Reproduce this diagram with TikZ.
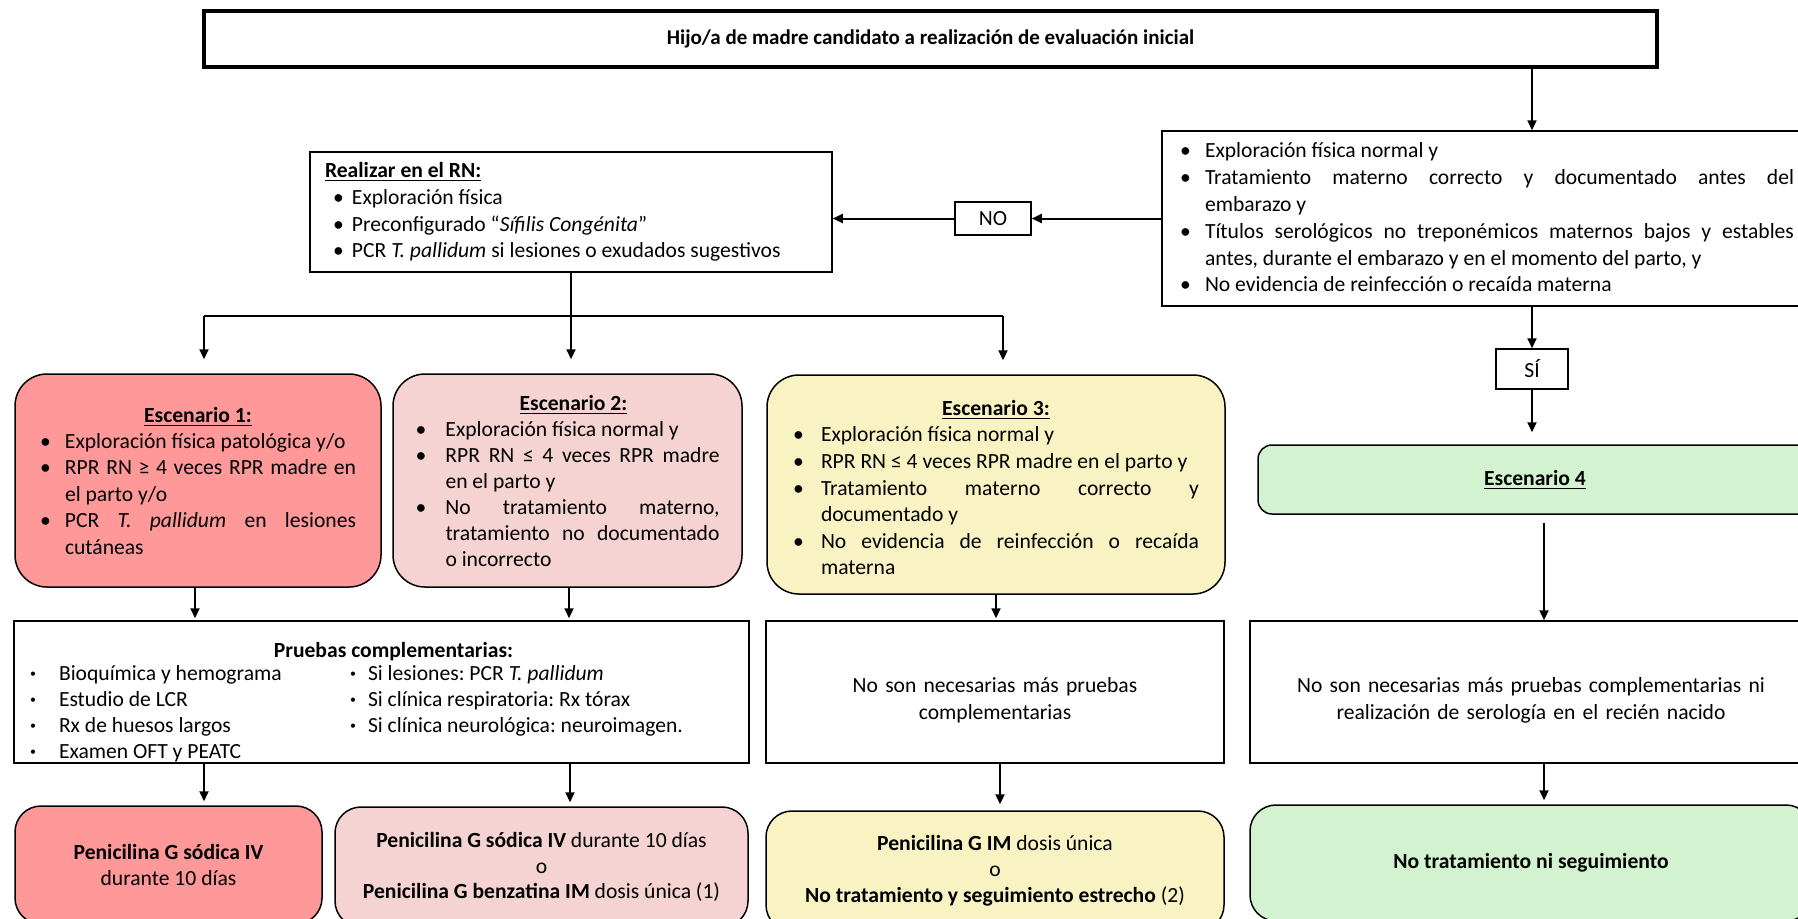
\documentclass[tikz,border=0pt]{standalone}
\usepackage{fontspec}
\setmainfont{Carlito}
\usetikzlibrary{arrows.meta,calc}
\definecolor{redA}{HTML}{FF9999}
\definecolor{pinkB}{HTML}{F6D3D3}
\definecolor{yelC}{HTML}{F9F3C3}
\definecolor{grnD}{HTML}{D3F3D0}
\hyphenpenalty=10000
\exhyphenpenalty=10000
\frenchspacing
\newcommand{\bitem}[3][0pt]{\par\noindent\hangindent=#2\hangafter=1\makebox[#2][l]{\hspace*{#1}•}#3}
\newcommand{\sbitem}[2]{\par\noindent\hangindent=#1\hangafter=1\makebox[#1][l]{\raisebox{0.25ex}{\scalebox{0.55}{•}}}#2}
\begin{document}
\begin{tikzpicture}[x=0.5pt,y=-0.5pt,
  box/.style={draw=black, line width=0.75pt, inner sep=0pt, font=\fontsize{10.8}{13.4}\selectfont},
  rbox/.style={box, rounded corners=16pt},
  just/.style={align=justify},
  arr/.style={-{Triangle[length=5pt,width=4.5pt]}, line width=1pt},
  plain/.style={line width=1pt}]
\useasboundingbox (0,0) rectangle (1798,918);
\clip (0,0) rectangle (1798,918);

% top
\node[box, line width=1.8pt, minimum width=726.5pt, minimum height=28pt,
      font=\bfseries\fontsize{10.5}{12}\selectfont] (top) at (930.5,39)
  {Hijo/a de madre candidato a realización de evaluación inicial};

% right condition box
\node[box, just, minimum width=325pt, minimum height=84.5pt, text width=307pt] (cond) at (1487,218.5)
  {\bitem{12.5pt}{Exploración física normal y}
   \bitem{12.5pt}{Tratamiento materno correcto y documentado antes del\linebreak embarazo y}
   \bitem{12.5pt}{Títulos serológicos no treponémicos maternos bajos y estables\linebreak antes, durante el embarazo y en el momento del parto, y}
   \bitem{12.5pt}{No evidencia de reinfección o recaída materna}\par\kern7pt};

% NO box
\node[box, minimum width=38pt, minimum height=16.5pt] (no) at (993,218.5) {NO};

% Realizar box
\node[box, just, minimum width=261pt, minimum height=60pt, text width=246pt] (rn) at (571,212)
  {\noindent\textbf{\underline{Realizar en el RN:}}
   \bitem[4pt]{13.5pt}{Exploración física}
   \bitem[4pt]{13.5pt}{Preconfigurado “\textit{Sífilis Congénita}”}
   \bitem[4pt]{13.5pt}{PCR \textit{T. pallidum} si lesiones o exudados sugestivos}\par};

% Escenarios
\node[rbox, just, fill=redA, minimum width=183pt, minimum height=106.5pt, text width=158pt,
      font=\fontsize{10.8}{13.2}\selectfont] (e1) at (198,480.5)
  {{\centering\textbf{\underline{Escenario 1:}}\par}
   \bitem{12.5pt}{Exploración física patológica y/o}
   \bitem{12.5pt}{RPR RN ≥ 4 veces RPR madre en\linebreak el parto y/o}
   \bitem{12.5pt}{PCR \textit{T. pallidum} en lesiones\linebreak cutáneas}\par};

\node[rbox, just, fill=pinkB, minimum width=174.5pt, minimum height=106.5pt, text width=152pt,
      font=\fontsize{10.8}{13}\selectfont] (e2) at (567.5,480.5)
  {{\centering\hspace*{6pt}\textbf{\underline{Escenario 2:}}\par}
   \bitem{15pt}{Exploración física normal y}
   \bitem{15pt}{RPR RN ≤ 4 veces RPR madre\linebreak en el parto y}
   \bitem{15pt}{No tratamiento materno,\linebreak tratamiento no documentado\linebreak o incorrecto}\par};

\node[rbox, just, fill=yelC, minimum width=229pt, minimum height=109.5pt, text width=203pt,
      font=\fontsize{10.8}{13.3}\selectfont] (e3) at (996,484.5)
  {{\centering\textbf{\underline{Escenario 3:}}\par}
   \bitem{14pt}{Exploración física normal y}
   \bitem{14pt}{RPR RN ≤ 4 veces RPR madre en el parto y}
   \bitem{14pt}{Tratamiento materno correcto y\linebreak documentado y}
   \bitem{14pt}{No evidencia de reinfección o recaída\linebreak materna}\par\kern-3pt};

\node[box, minimum width=36pt, minimum height=20pt] (si) at (1532,369) {SÍ};

\node[box, rounded corners=7pt, fill=grnD, minimum width=277pt, minimum height=34.5pt] (e4) at (1535,479.5)
  {\textbf{\underline{Escenario 4}}};

% second level
\node[box, just, minimum width=367.5pt, minimum height=71pt, text width=351.5pt,
      font=\fontsize{10.8}{13}\selectfont] (p1) at (381.5,692)
  {{\centering\hspace*{12pt}\textbf{Pruebas complementarias:}\par}
   \vspace{-1.5pt}
   \noindent\begin{minipage}[t]{160pt}
     \sbitem{14.5pt}{Bioquímica y hemograma}
     \sbitem{14.5pt}{Estudio de LCR}
     \sbitem{14.5pt}{Rx de huesos largos}
     \sbitem{14.5pt}{Examen OFT y PEATC}\par
   \end{minipage}%
   \begin{minipage}[t]{191.5pt}
     \sbitem{9pt}{Si lesiones: PCR \textit{T. pallidum}}
     \sbitem{9pt}{Si clínica respiratoria: Rx tórax}
     \sbitem{9pt}{Si clínica neurológica: neuroimagen.}\par
   \end{minipage}\par\kern-10pt};

\node[box, minimum width=229pt, minimum height=71pt, text width=220pt, align=center] (p3) at (995,692)
  {No son necesarias más pruebas\\complementarias\par\kern-8pt};

\node[box, minimum width=281pt, minimum height=71pt, text width=270pt, align=center] (p4) at (1531,692)
  {No son necesarias más pruebas complementarias ni\\realización de serología en el recién nacido\par\kern-8pt};

% third level
\node[rbox, rounded corners=13pt, fill=redA, minimum width=153.5pt, minimum height=59pt, align=center,
      font=\fontsize{10.8}{12.8}\selectfont] (b1) at (168.5,865)
  {\textbf{Penicilina G sódica IV}\\durante 10 días};

\node[rbox, rounded corners=13pt, fill=pinkB, minimum width=206.5pt, minimum height=60pt, align=center,
      font=\fontsize{10.8}{12.8}\selectfont] (b2) at (541.5,867)
  {\textbf{Penicilina G sódica IV} durante 10 días\\o\\\textbf{Penicilina G benzatina IM} dosis única (1)};

\node[rbox, rounded corners=13pt, fill=yelC, minimum width=229pt, minimum height=60pt, align=center,
      font=\fontsize{10.8}{13}\selectfont] (b3) at (995,871)
  {\textbf{Penicilina G IM} dosis única\\o\\\textbf{No tratamiento y seguimiento estrecho} (2)};

\node[rbox, rounded corners=13pt, fill=grnD, minimum width=281pt, minimum height=58pt, align=center] (b4) at (1531,863)
  {\textbf{No tratamiento ni seguimiento}};

% helper coordinates
\coordinate (cx) at (1532,0);
\coordinate (cy) at (1544,0);
\coordinate (bl) at (204,316);
\coordinate (br) at (1003,316);
\coordinate (c1) at (195,0);
\coordinate (c2) at (569,0);
\coordinate (c5) at (204,0);
\coordinate (c6) at (570,0);
\coordinate (c7) at (1000,0);

% connectors
\draw[arr] (cx |- top.south) -- (cx |- cond.north);
\draw[arr] (cond.west) -- (no.east);
\draw[arr] (no.west) -- (rn.east |- no.west);
\draw[plain] (rn.south) -- (rn.south |- bl);
\draw[line width=1.3pt] (bl) -- (br);
\draw[arr, shorten >=7pt] (bl) -- (bl |- e1.north);
\draw[arr, shorten >=7pt] (rn.south |- bl) -- (rn.south |- e2.north);
\draw[arr, shorten >=7pt] (br) -- (br |- e3.north);
\draw[arr] (cx |- cond.south) -- (cx |- si.north);
\draw[arr, shorten >=6pt] (cx |- si.south) -- (cx |- e4.north);
\draw[arr, shorten <=4pt] (cy |- e4.south) -- (cy |- p4.north);
\draw[arr, shorten >=1pt] (c1 |- e1.south) -- (c1 |- p1.north);
\draw[arr, shorten >=1pt] (c2 |- e2.south) -- (c2 |- p1.north);
\draw[arr, shorten >=1pt] (e3.south) -- (e3.south |- p3.north);
\draw[arr, shorten >=2pt] (c5 |- p1.south) -- (c5 |- b1.north);
\draw[arr, shorten >=2pt] (c6 |- p1.south) -- (c6 |- b2.north);
\draw[arr, shorten >=3pt] (c7 |- p3.south) -- (c7 |- b3.north);
\draw[arr, shorten >=2pt] (cy |- p4.south) -- (cy |- b4.north);
\end{tikzpicture}
\end{document}
